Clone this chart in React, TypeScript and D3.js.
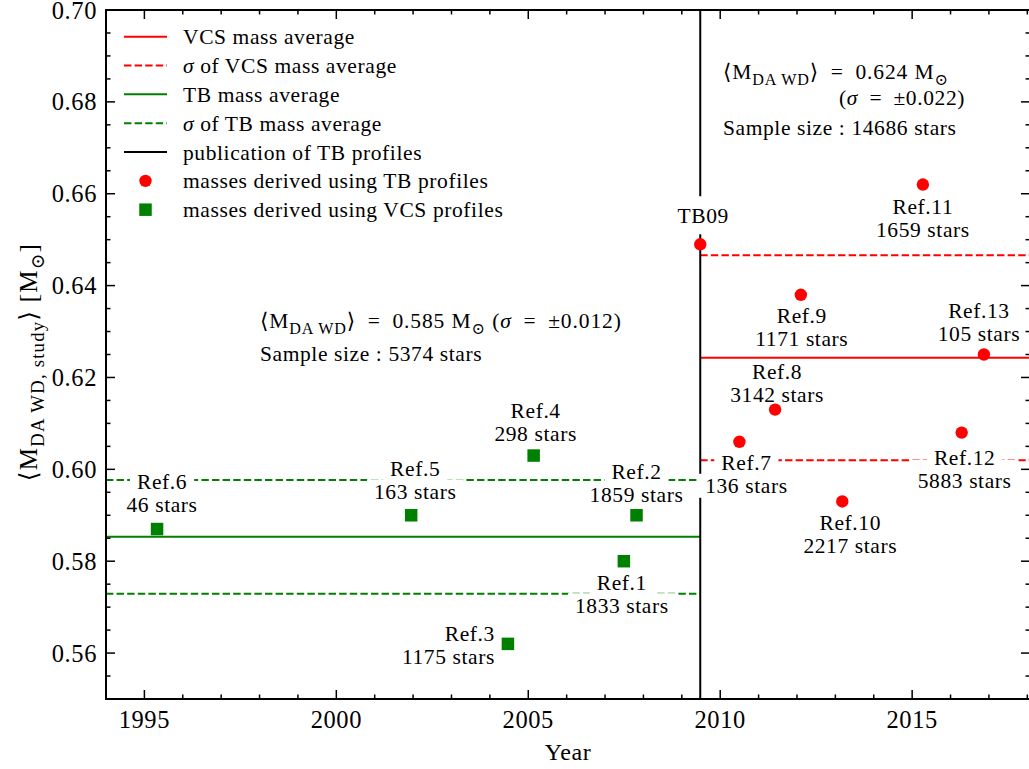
import React from 'react';
import * as d3 from 'd3';

// ---------- data ----------
const xMin = 1994;
const xMax = 2018.07;
const yMin = 0.55;
const yMax = 0.70;

const xMajorTicks = [1995, 2000, 2005, 2010, 2015];
const yMajorTicks = [0.56, 0.58, 0.60, 0.62, 0.64, 0.66, 0.68, 0.70];

// masses derived using VCS profiles (green squares)
const vcsProfileRefs = ['Ref.6', 'Ref.5', 'Ref.3', 'Ref.4', 'Ref.1', 'Ref.2'];
const vcsProfileYears = [1995.33, 2001.95, 2004.47, 2005.14, 2007.49, 2007.82];
const vcsProfileMasses = [0.587, 0.590, 0.562, 0.603, 0.580, 0.590];
const vcsProfileStars = [46, 163, 1175, 298, 1833, 1859];

// masses derived using TB profiles (red circles)
const tbProfileRefs = ['TB09', 'Ref.7', 'Ref.8', 'Ref.9', 'Ref.10', 'Ref.11', 'Ref.12', 'Ref.13'];
const tbProfileYears = [2009.48, 2010.50, 2011.43, 2012.10, 2013.18, 2015.28, 2016.29, 2016.87];
const tbProfileMasses = [0.649, 0.606, 0.613, 0.638, 0.593, 0.662, 0.608, 0.625];
const tbProfileStars: (number | null)[] = [null, 136, 3142, 1171, 2217, 1659, 5883, 105];

const tbPublicationYear = 2009.48;

// averages
const tbMassAverage = 0.5853;
const tbMassSigma = 0.0124;
const tbSampleSize = 5374;
const vcsMassAverage = 0.6243;
const vcsMassSigma = 0.0223;
const vcsSampleSize = 14686;

const legendLabels = [
  'VCS mass average',
  'σ of VCS mass average',
  'TB mass average',
  'σ of TB mass average',
  'publication of TB profiles',
  'masses derived using TB profiles',
  'masses derived using VCS profiles',
];

// ---------- styling / layout ----------
const RED = '#ff0000';
const GREEN = '#008000';
const FONT = "'Liberation Serif', Tinos, 'Times New Roman', 'DejaVu Serif', 'Noto Serif', serif";
const LS = '0.6px';
const EQ = '\u2002=\u2002';
const plot = { left: 106, top: 10, right: 1030, bottom: 699 };

// label placement relative to marker (px)
const labelLayout: Record<string, { dx: number; dy: number; anchor?: string; hh?: number }> = {
  'Ref.6': { dx: 5, dy: -48 },
  'Ref.5': { dx: 4, dy: -47 },
  'Ref.3': { dx: -13, dy: -10, anchor: 'end' },
  'Ref.4': { dx: 2, dy: -45 },
  'Ref.1': { dx: -2, dy: 21 },
  'Ref.2': { dx: 0, dy: -44 },
  'TB09': { dx: 3, dy: -29, hh: 19 },
  'Ref.7': { dx: 7, dy: 21 },
  'Ref.8': { dx: 2, dy: -38 },
  'Ref.9': { dx: 1, dy: 21 },
  'Ref.10': { dx: 8, dy: 21 },
  'Ref.11': { dx: 0, dy: 22 },
  'Ref.12': { dx: 3, dy: 25, hh: 21 },
  'Ref.13': { dx: -5, dy: -44 },
};

type Part = { t: string; sub?: boolean; it?: boolean };

function mathText(
  parent: d3.Selection<any, unknown, null, undefined>,
  parts: Part[],
  xPos: number,
  yPos: number,
  size: number,
  anchor = 'start',
  subScale = 0.75,
  ls = LS
) {
  const t = parent
    .append('text')
    .attr('x', xPos)
    .attr('y', yPos)
    .style('font-family', FONT)
    .style('font-size', `${size}px`)
    .style('letter-spacing', ls)
    .attr('text-anchor', anchor)
    .attr('fill', '#000');
  let shift = 0;
  parts.forEach((p) => {
    const s = t.append('tspan').text(p.t);
    const target = p.sub ? size * 0.26 : 0;
    if (target !== shift) {
      s.attr('dy', target - shift);
      shift = target;
    }
    if (p.sub) s.style('font-size', `${size * subScale}px`);
    if (p.it) s.style('font-style', 'italic');
  });
  return t;
}

export default function App() {
  const ref = React.useRef<SVGSVGElement>(null);

  React.useEffect(() => {
    const svg = d3.select(ref.current as SVGSVGElement);
    svg.selectAll('*').remove();

    const x = d3.scaleLinear().domain([xMin, xMax]).range([plot.left, plot.right]);
    const y = d3.scaleLinear().domain([yMin, yMax]).range([plot.bottom, plot.top]);

    svg
      .append('defs')
      .append('clipPath')
      .attr('id', 'plotclip')
      .append('rect')
      .attr('x', plot.left)
      .attr('y', plot.top)
      .attr('width', plot.right - plot.left)
      .attr('height', plot.bottom - plot.top);

    const g = svg.append('g').attr('clip-path', 'url(#plotclip)');
    const gLines = g.append('g');
    const gBoxes = g.append('g');
    const gText = g.append('g');
    const gMarks = g.append('g');

    const hline = (x0: number, x1: number, v: number, color: string, dashed: boolean) => {
      gLines
        .append('line')
        .attr('x1', x(x0))
        .attr('x2', x(x1))
        .attr('y1', y(v))
        .attr('y2', y(v))
        .attr('stroke', color)
        .attr('stroke-width', 2)
        .attr('stroke-dasharray', dashed ? '7.4,3.2' : null);
    };

    hline(xMin, tbPublicationYear, tbMassAverage, GREEN, false);
    hline(xMin, tbPublicationYear, tbMassAverage + tbMassSigma, GREEN, true);
    hline(xMin, tbPublicationYear, tbMassAverage - tbMassSigma, GREEN, true);
    hline(tbPublicationYear, xMax, vcsMassAverage, RED, false);
    hline(tbPublicationYear, xMax, vcsMassAverage + vcsMassSigma, RED, true);
    hline(tbPublicationYear, xMax, vcsMassAverage - vcsMassSigma, RED, true);

    gLines
      .append('line')
      .attr('x1', x(tbPublicationYear))
      .attr('x2', x(tbPublicationYear))
      .attr('y1', y(yMin))
      .attr('y2', y(yMax))
      .attr('stroke', '#000')
      .attr('stroke-width', 2);

    const addLabel = (name: string, stars: number | null, px: number, py: number) => {
      const lay = labelLayout[name];
      const anchor = lay.anchor || 'middle';
      const lx = px + lay.dx;
      const lines = stars == null ? [name] : [name, `${stars} stars`];
      const hh = lay.hh ?? 12;
      lines.forEach((ln, i) => {
        const cy = py + lay.dy + i * 23;
        const t = gText
          .append('text')
          .attr('x', lx)
          .attr('y', cy + 7.5)
          .attr('text-anchor', anchor)
          .style('font-family', FONT)
          .style('font-size', '21.5px')
          .style('letter-spacing', LS)
          .text(ln);
        const bb = (t.node() as SVGTextElement).getBBox();
        gBoxes
          .append('rect')
          .attr('x', bb.x - 7)
          .attr('y', cy - hh)
          .attr('width', bb.width + 14)
          .attr('height', hh * 2)
          .attr('fill', '#fff');
      });
    };

    vcsProfileRefs.forEach((r, i) =>
      addLabel(r, vcsProfileStars[i], x(vcsProfileYears[i]), y(vcsProfileMasses[i]))
    );
    tbProfileRefs.forEach((r, i) =>
      addLabel(r, tbProfileStars[i], x(tbProfileYears[i]), y(tbProfileMasses[i]))
    );

    const sq = 12.5;
    vcsProfileRefs.forEach((_, i) => {
      gMarks
        .append('rect')
        .attr('x', x(vcsProfileYears[i]) - sq / 2)
        .attr('y', y(vcsProfileMasses[i]) - sq / 2)
        .attr('width', sq)
        .attr('height', sq)
        .attr('fill', GREEN);
    });
    tbProfileRefs.forEach((_, i) => {
      gMarks
        .append('circle')
        .attr('cx', x(tbProfileYears[i]))
        .attr('cy', y(tbProfileMasses[i]))
        .attr('r', 6.2)
        .attr('fill', RED);
    });

    const ann = svg.append('g');
    mathText(
      ann,
      [
        { t: '⟨M' },
        { t: 'DA WD', sub: true },
        { t: `⟩${EQ}${tbMassAverage.toFixed(3)} M` },
        { t: '⊙', sub: true },
        { t: ' (' },
        { t: 'σ', it: true },
        { t: `${EQ}±${tbMassSigma.toFixed(3)})` },
      ],
      260,
      328,
      21.5,
      'start',
      0.75,
      '0.9px'
    );
    mathText(ann, [{ t: `Sample size : ${tbSampleSize} stars` }], 260, 361, 21.5);

    mathText(
      ann,
      [
        { t: '⟨M' },
        { t: 'DA WD', sub: true },
        { t: `⟩${EQ}${vcsMassAverage.toFixed(3)} M` },
        { t: '⊙', sub: true },
      ],
      723,
      79,
      21.5,
      'start',
      0.75,
      '0.9px'
    );
    mathText(
      ann,
      [{ t: '(' }, { t: 'σ', it: true }, { t: `${EQ}±${vcsMassSigma.toFixed(3)})` }],
      965,
      105,
      21.5,
      'end'
    );
    mathText(ann, [{ t: `Sample size : ${vcsSampleSize} stars` }], 723, 135, 21.5);

    const ax = svg.append('g');
    ax.append('rect')
      .attr('x', plot.left)
      .attr('y', plot.top)
      .attr('width', plot.right - plot.left)
      .attr('height', plot.bottom - plot.top)
      .attr('fill', 'none')
      .attr('stroke', '#000')
      .attr('stroke-width', 2);

    const tick = (x1: number, y1: number, x2: number, y2: number) =>
      ax.append('line')
        .attr('x1', x1).attr('y1', y1).attr('x2', x2).attr('y2', y2)
        .attr('stroke', '#000').attr('stroke-width', 1.5);

    const xMinor = d3.range(Math.ceil(xMin), Math.floor(xMax) + 1);
    xMinor.forEach((v) => {
      const major = xMajorTicks.includes(v);
      const len = major ? 9 : 4.5;
      tick(x(v), plot.bottom, x(v), plot.bottom - len);
      tick(x(v), plot.top, x(v), plot.top + len);
    });
    const yMinor = d3.range(0, 31).map((i) => +(yMin + i * 0.005).toFixed(3));
    yMinor.forEach((v) => {
      const major = yMajorTicks.some((m) => Math.abs(m - v) < 1e-6);
      const len = major ? 9 : 4.5;
      tick(plot.left, y(v), plot.left + len, y(v));
      tick(plot.right, y(v), plot.right - len, y(v));
    });

    xMajorTicks.forEach((v) => {
      ax.append('text')
        .attr('x', x(v))
        .attr('y', 728)
        .attr('text-anchor', 'middle')
        .style('font-family', FONT)
        .style('font-size', '24.5px')
        .style('letter-spacing', LS)
        .text(String(v));
    });
    yMajorTicks.forEach((v) => {
      ax.append('text')
        .attr('x', 97)
        .attr('y', y(v) + 8.5)
        .attr('text-anchor', 'end')
        .style('font-family', FONT)
        .style('font-size', '24.5px')
        .style('letter-spacing', LS)
        .text(v.toFixed(2));
    });

    ax.append('text')
      .attr('x', (plot.left + plot.right) / 2)
      .attr('y', 760)
      .attr('text-anchor', 'middle')
      .style('font-family', FONT)
      .style('font-size', '24px')
      .style('letter-spacing', LS)
      .text('Year');

    const yl = ax.append('g').attr('transform', `translate(37, 362) rotate(-90)`);
    mathText(
      yl,
      [
        { t: '⟨M' },
        { t: 'DA WD, study', sub: true },
        { t: '⟩ [M' },
        { t: '⊙', sub: true },
        { t: ']' },
      ],
      0,
      0,
      25,
      'middle',
      0.75,
      '1.2px'
    );

    const lg = svg.append('g');
    const rowY = (i: number) => 36.7 + i * 28.83;
    const legendStyles = [
      { kind: 'line', color: RED, dash: false },
      { kind: 'line', color: RED, dash: true },
      { kind: 'line', color: GREEN, dash: false },
      { kind: 'line', color: GREEN, dash: true },
      { kind: 'line', color: '#000', dash: false },
      { kind: 'circle', color: RED, dash: false },
      { kind: 'square', color: GREEN, dash: false },
    ];
    legendLabels.forEach((lab, i) => {
      const st = legendStyles[i];
      const cy = rowY(i);
      if (st.kind === 'line') {
        lg.append('line')
          .attr('x1', 124).attr('x2', 167).attr('y1', cy).attr('y2', cy)
          .attr('stroke', st.color).attr('stroke-width', 2)
          .attr('stroke-dasharray', st.dash ? '7.4,3.2' : null);
      } else if (st.kind === 'circle') {
        lg.append('circle').attr('cx', 145.5).attr('cy', cy).attr('r', 6.2).attr('fill', st.color);
      } else {
        lg.append('rect').attr('x', 145.5 - sq / 2).attr('y', cy - sq / 2)
          .attr('width', sq).attr('height', sq).attr('fill', st.color);
      }
      const parts: Part[] = lab.startsWith('σ')
        ? [{ t: 'σ', it: true }, { t: lab.slice(1) }]
        : [{ t: lab }];
      mathText(lg, parts, 183, cy + 7.5, 21.5);
    });
  }, []);

  return (
    <svg
      ref={ref}
      width={1029}
      height={769}
      style={{ position: 'absolute', left: 0, top: 0, background: '#fff' }}
    />
  );
}
